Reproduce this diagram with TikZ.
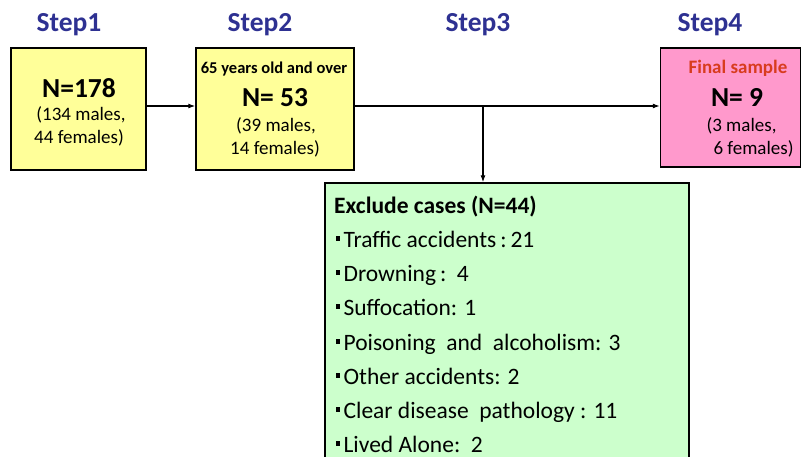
\documentclass[tikz,border=0pt]{standalone}
\usepackage{fontspec}
\setmainfont{Carlito}
\usetikzlibrary{arrows.meta}
\definecolor{stepblue}{RGB}{46,49,146}
\definecolor{finalred}{RGB}{216,60,30}
\definecolor{boxyellow}{RGB}{255,255,153}
\definecolor{boxpink}{RGB}{255,153,204}
\definecolor{boxgreen}{RGB}{204,255,204}
\tikzset{
  box/.style={draw=black, line width=1.4pt, inner sep=0pt},
  steplabel/.style={anchor=base, text=stepblue, font=\fontsize{27.5}{30}\selectfont\bfseries},
  bignum/.style={anchor=base, font=\fontsize{27.5}{30}\selectfont\bfseries},
  small/.style={anchor=base, font=\fontsize{19}{22}\selectfont},
  tiny/.style={anchor=base, font=\fontsize{16.5}{19}\selectfont\bfseries},
  item/.style={anchor=base west, inner sep=0pt, font=\fontsize{23.5}{26}\selectfont},
  conn/.style={line width=1.1pt, -{Latex[length=7pt,width=5pt]}}
}
\newcommand{\bul}{\rule[6.5pt]{3.4pt}{4.4pt}\hspace{4pt}}
\begin{document}
\begin{tikzpicture}[x=1pt,y=-1pt]
\useasboundingbox (0,0) rectangle (805,457);
\clip (0,0) rectangle (805,457);
% step labels
\node[steplabel] (s1) at (69,32) {Step1};
\node[steplabel] (s2) at (260,32) {Step2};
\node[steplabel] (s3) at (478,32) {Step3};
\node[steplabel] (s4) at (710,32) {Step4};
% boxes
\node[box, fill=boxyellow, minimum width=135pt, minimum height=122pt] (b1) at (78.5,109) {};
\node[box, fill=boxyellow, minimum width=158pt, minimum height=122pt] (b2) at (275,109) {};
\node[box, fill=boxpink, minimum width=140pt, minimum height=119pt] (b4) at (730.5,107.5) {};
\node[box, fill=boxgreen, minimum width=364pt, minimum height=292pt] (ex) at (507,329) {};
% box 1 text
\node[bignum] (t1a) at (79,98) {N=178};
\node[small] (t1b) at (81,121) {(134 males,};
\node[small] (t1c) at (79,144) {44 females)};
% box 2 text
\node[tiny] (t2a) at (274,74) {65 years old and over};
\node[bignum] (t2b) at (275,107) {N= 53};
\node[small] (t2c) at (276,132) {(39 males,};
\node[small] (t2d) at (275,155) {14 females)};
% box 4 text
\node[tiny, text=finalred, font=\fontsize{19}{22}\selectfont\bfseries] (t4a) at (738,74) {Final sample};
\node[bignum] (t4b) at (737,107) {N= 9};
\node[small, anchor=base west] (t4c) at (703,132) {(3 males,};
\node[small, anchor=base west] (t4d) at (710,155) {6 females)};
% exclusion text
\node[item, font=\fontsize{23.5}{26}\selectfont\bfseries] (h) at (334,213) {Exclude cases (N=44)};
\node[item] (i1) at (336,247) {\bul Traffic accidents\,:\,21};
\node[item] (i2) at (336,281) {\bul Drowning\,:~~4};
\node[item] (i3) at (336,315) {\bul Suffocation: 1};
\node[item] (i4) at (336,350) {\bul Poisoning~~and~~alcoholism: 3};
\node[item] (i5) at (336,384) {\bul Other accidents: 2};
\node[item] (i6) at (336,418) {\bul Clear disease~~pathology : 11};
\node[item] (i7) at (336,452) {\bul Lived Alone:~~2};
% connectors
\coordinate (j) at (483,106);
\draw[conn] (b1.east|-j) -- (b2.west|-j);
\draw[conn] (b2.east|-j) -- (b4.west|-j);
\draw[conn] (j) -- (ex.north-|j);
\end{tikzpicture}
\end{document}
